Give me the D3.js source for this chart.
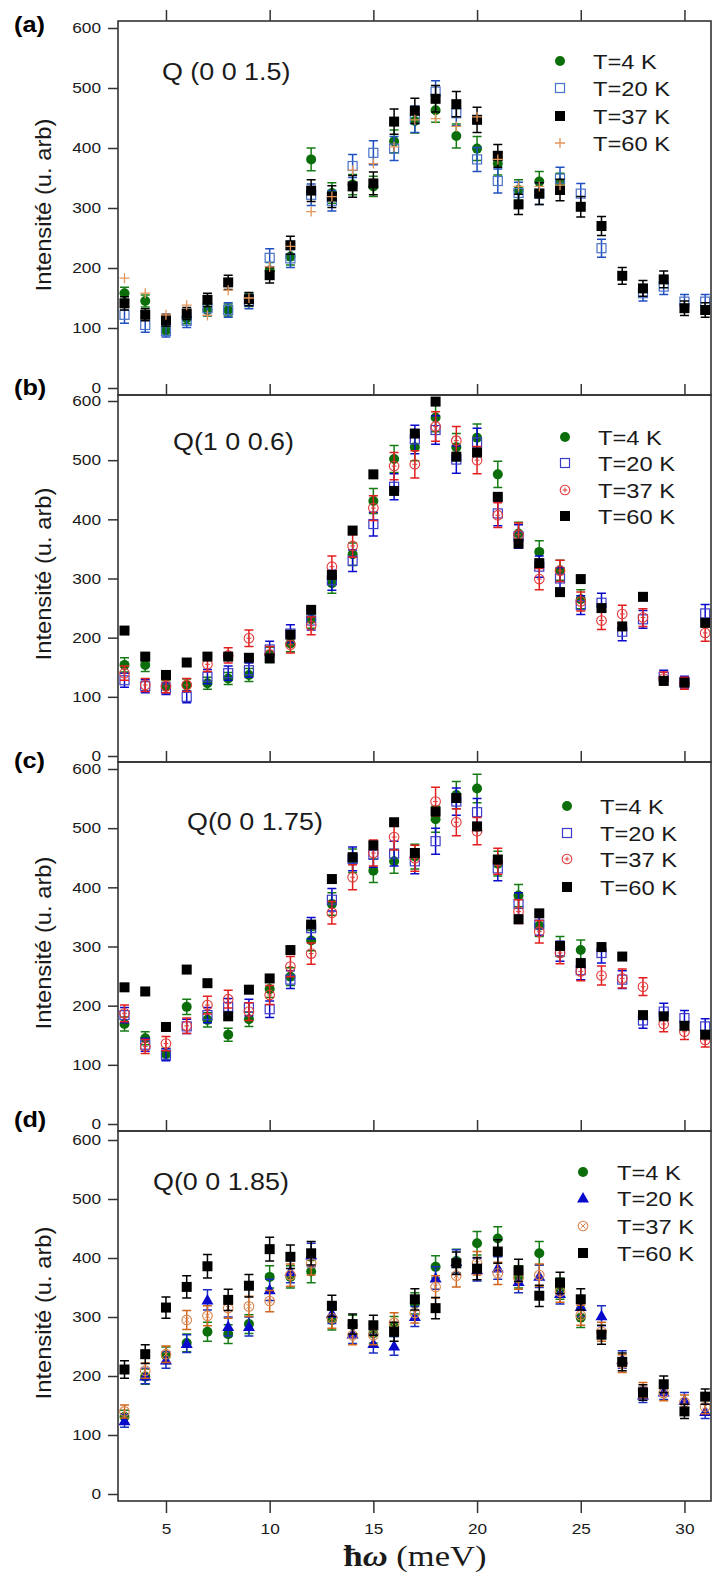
<!DOCTYPE html>
<html><head><meta charset="utf-8">
<script src="https://cdn.jsdelivr.net/npm/d3@7"></script>
<style>body{margin:0;background:#fff}svg{display:block}</style>
</head><body>
<svg id="c" width="712" height="1575"></svg>
<script>
// ---------- data ----------
const energies = [3,4,5,6,7,8,9,10,11,12,13,14,15,16,17,18,19,20,21,22,23,24,25,26,27,28,29,30,31];
const xTicks = [5,10,15,20,25,30];
const yTicks = [0,100,200,300,400,500,600];
const panelLabels = ["(a)","(b)","(c)","(d)"];
const panelTitles = ["Q (0 0 1.5)","Q(1 0 0.6)","Q(0 0 1.75)","Q(0 0 1.85)"];
const legendLabels = ["T=4 K","T=20 K","T=37 K","T=60 K"];
const yTitle = "Intensité (u. arb)";

// panel (a) Q(0 0 1.5)
const a4K  = [158,145,96,116,130,130,147,196,219,381,325,339,336,411,445,463,420,399,374,330,344,341,null,null,null,null,null,null,null];
const a20K = [122,105,95,112,133,130,144,217,216,322,312,370,392,399,448,494,458,381,345,325,324,349,324,233,null,158,169,144,144];
const a37K = [141,122,113,124,147,176,148,188,238,329,319,336,341,444,462,482,473,447,387,306,324,330,302,270,187,166,181,133,130];
const a60K = [183,158,122,138,121,163,150,202,236,294,319,363,374,402,447,449,436,452,381,336,336,338,null,null,null,null,null,null,null];
const a4KErr  = [10,10,8,9,10,10,11,13,14,19,17,17,17,19,20,20,20,20,19,17,17,17,null,null,null,null,null,null,null];
const a20KErr = [14,12,10,11,12,12,12,15,15,18,17,19,20,20,22,18,21,20,20,18,18,19,17,15,null,13,13,12,12];
const a37KErr = [11,10,10,10,11,12,11,13,15,18,18,18,19,21,21,22,21,21,19,17,18,18,17,16,14,13,14,12,12];

// panel (b) Q(1 0 0.6)
const b4K  = [154,154,117,120,123,131,137,171,190,231,292,341,431,502,522,572,522,538,476,376,345,314,265,null,null,null,null,null,null];
const b20K = [128,118,114,100,134,140,145,180,207,229,297,330,392,455,535,551,501,530,410,371,320,300,255,259,210,231,134,125,241];
const b37K = [140,120,118,120,155,170,199,172,188,220,320,355,419,490,493,557,533,500,407,374,299,313,261,229,240,234,131,123,208];
const b60K = [212,168,137,158,168,168,166,165,205,247,306,381,476,448,545,599,506,513,438,359,326,277,299,250,219,269,127,124,225];
const b4KErr  = [12,11,10,10,10,10,11,13,14,15,17,19,21,23,23,24,23,23,22,19,19,17,16,null,null,null,null,null,null];
const b20KErr = [12,11,10,10,12,12,12,14,15,16,17,18,20,22,24,24,23,24,21,20,18,18,16,16,15,15,11,10,15];
const b37KErr = [12,11,11,11,12,13,14,13,14,15,18,19,21,23,23,25,24,23,21,20,18,18,16,15,15,15,11,10,14];

// panel (c) Q(0 0 1.75)
const c4K  = [169,145,118,198,176,151,177,228,249,310,372,445,428,444,452,515,556,567,440,386,335,300,294,null,null,null,null,null,null];
const c20K = [184,134,117,165,184,198,197,194,244,331,379,448,455,457,444,478,545,527,432,372,337,292,260,289,244,175,190,179,165];
const c37K = [187,131,136,166,201,211,190,218,266,288,357,417,458,485,449,545,510,495,444,359,325,289,258,251,246,232,169,156,142];
const c60K = [231,224,164,261,238,182,227,246,294,337,414,451,471,510,458,528,551,503,447,346,356,301,272,299,283,184,182,166,151];
const c4KErr  = [12,11,10,13,12,11,12,14,15,17,19,20,20,20,21,22,23,24,21,19,18,17,17,null,null,null,null,null,null];
const c20KErr = [13,11,10,12,13,14,14,14,15,18,19,20,21,21,21,22,23,23,21,19,18,17,16,17,15,13,14,13,13];
const c37KErr = [14,12,12,13,15,15,15,16,17,18,19,21,22,22,22,24,23,23,22,20,19,18,16,16,16,15,13,13,12];

// panel (d) Q(0 0 1.85)
const d4K  = [131,199,235,256,275,271,288,368,368,377,295,286,272,284,323,385,395,425,433,368,408,348,299,null,null,null,null,null,null];
const d20K = [124,200,227,255,329,284,284,346,377,405,306,271,255,251,301,366,394,380,383,360,369,340,318,302,228,168,173,159,140];
const d37K = [140,209,237,295,302,315,318,327,371,391,298,269,269,290,307,351,370,391,374,366,371,343,303,275,221,176,171,156,148];
const d60K = [211,237,316,351,386,329,353,415,402,408,319,288,286,275,330,315,391,382,411,379,336,358,330,270,224,172,186,140,165];
const d4KErr  = [11,13,14,15,16,16,16,19,19,19,17,17,16,17,18,19,20,20,20,19,20,18,17,null,null,null,null,null,null];
const d20KErr = [11,13,14,15,17,16,16,18,19,20,17,16,16,16,17,19,20,19,19,19,19,18,17,17,15,13,13,13,12];
const d37KErr = [11,13,14,16,17,17,17,18,19,20,17,16,16,17,17,19,19,20,19,19,19,18,17,16,15,13,13,12,12];
const d60KErr = [15,16,18,19,20,18,19,20,20,20,18,17,17,16,18,18,19,19,20,19,18,18,18,16,15,13,14,12,13];

// ---------- styles / layout ----------
const GREEN = {sym:"circle",  color:"#0b6e0b", bar:"#167c16"};
const panels = [
  {top:21,  bottom:395,  y600:28,   y0:388,  lab:[14,32],   title:[162,80],   leg:{mx:560,tx:593,ys:[61,88,116,143]},   yc:205,
   series:[[a4K,a4KErr,GREEN],[a20K,a20KErr,{sym:"sqOpen",color:"#4a72c8",bar:"#1f4fc0"}],[a37K,a37KErr,{sym:"sqFill",color:"#000",bar:"#000"}],[a60K,null,{sym:"plus",color:"#e4955a",bar:null}]]},
  {top:395, bottom:762,  y600:401,  y0:756,  lab:[14,395],  title:[173,450],  leg:{mx:565,tx:598,ys:[437,463,490,516]}, yc:574,
   series:[[b4K,b4KErr,GREEN],[b20K,b20KErr,{sym:"sqOpen",color:"#3c3cc8",bar:"#0a0acd"}],[b37K,b37KErr,{sym:"circPlus",color:"#e03a3a",bar:"#e41e1e"}],[b60K,null,{sym:"sqFill",color:"#000",bar:null}]]},
  {top:762, bottom:1131, y600:769,  y0:1124, lab:[14,768],  title:[187,830],  leg:{mx:567,tx:600,ys:[806,833,859,887]}, yc:943,
   series:[[c4K,c4KErr,GREEN],[c20K,c20KErr,{sym:"sqOpen",color:"#3c3cc8",bar:"#0a0acd"}],[c37K,c37KErr,{sym:"circPlus",color:"#e03a3a",bar:"#e41e1e"}],[c60K,null,{sym:"sqFill",color:"#000",bar:null}]]},
  {top:1131,bottom:1501, y600:1140, y0:1494, lab:[14,1127], title:[153,1190], leg:{mx:583,tx:617,ys:[1172,1198,1226,1253]}, yc:1313,
   series:[[d4K,d4KErr,GREEN],[d20K,d20KErr,{sym:"tri",color:"#0a0acd",bar:"#1a2ec0"}],[d37K,d37KErr,{sym:"circX",color:"#d9854f",bar:"#d2661e"}],[d60K,d60KErr,{sym:"sqFill",color:"#000",bar:"#000"}]]}
];
const SX = 1.15;
const AX = "#333";
const FONT = "'Liberation Sans', Arial, sans-serif";

const svg = d3.select("#c");
const x = d3.scaleLinear().domain([2.687, 31.28]).range([118, 711]);

function marker(g, sym, color, cx, cy) {
  if (sym === "circle") g.append("circle").attr("cx",cx).attr("cy",cy).attr("r",5).attr("fill",color);
  else if (sym === "sqFill") g.append("rect").attr("x",cx-5).attr("y",cy-5).attr("width",10).attr("height",10).attr("fill",color);
  else if (sym === "sqOpen") g.append("rect").attr("x",cx-4.5).attr("y",cy-4.5).attr("width",9).attr("height",9).attr("fill","none").attr("stroke",color).attr("stroke-width",1.2);
  else if (sym === "plus") g.append("path").attr("d",`M${cx-5},${cy}H${cx+5}M${cx},${cy-5}V${cy+5}`).attr("stroke",color).attr("stroke-width",1.3).attr("fill","none");
  else if (sym === "circPlus" || sym === "circX") {
    g.append("circle").attr("cx",cx).attr("cy",cy).attr("r",4.8).attr("fill","none").attr("stroke",color).attr("stroke-width",1.1);
    const s = 2.4;
    const d = sym === "circPlus" ? `M${cx-s},${cy}H${cx+s}M${cx},${cy-s}V${cy+s}` : `M${cx-s},${cy-s}L${cx+s},${cy+s}M${cx-s},${cy+s}L${cx+s},${cy-s}`;
    g.append("path").attr("d",d).attr("stroke",color).attr("stroke-width",1).attr("fill","none");
  }
  else if (sym === "tri") g.append("path").attr("d",`M${cx},${cy-6}L${cx+6},${cy+4.5}L${cx-6},${cy+4.5}Z`).attr("fill",color);
}

function stext(g, tx, ty, txt, size, opts={}) {
  return g.append("text").attr("transform",`translate(${tx},${ty}) scale(${opts.sx||SX},1)`)
    .attr("font-family",opts.family||FONT).attr("font-size",size).attr("font-weight",opts.weight||"normal")
    .attr("text-anchor",opts.anchor||"start").attr("fill",opts.fill||"#1a1a1a").text(txt);
}

panels.forEach((p, pi) => {
  const y = d3.scaleLinear().domain([0,600]).range([p.y0, p.y600]);
  const g = svg.append("g");

  // data
  p.series.forEach(([vals, errs, st]) => {
    const sg = g.append("g");
    energies.forEach((e, i) => {
      const v = vals[i];
      if (v == null) return;
      const cx = x(e), cy = y(v);
      if (errs && st.bar && errs[i] != null) {
        const y1 = y(v + errs[i]), y2 = y(v - errs[i]);
        sg.append("path").attr("d",`M${cx},${y1}V${y2}M${cx-4.5},${y1}H${cx+4.5}M${cx-4.5},${y2}H${cx+4.5}`)
          .attr("stroke",st.bar).attr("stroke-width",1.5).attr("fill","none");
      }
      marker(sg, st.sym, st.color, cx, cy);
    });
  });

  // left axis
  const ax = g.append("g").attr("transform",`translate(118,0)`)
    .call(d3.axisLeft(y).tickValues(yTicks).tickSize(10).tickSizeOuter(0).tickFormat(d3.format("d")));
  ax.select(".domain").remove();
  ax.selectAll(".tick line").attr("stroke",AX).attr("stroke-width",1.5);
  ax.selectAll(".tick text").attr("x",0).attr("transform",`translate(-17,0) scale(${SX},1)`)
    .attr("font-family",FONT).attr("font-size",15).attr("fill","#1a1a1a");

  // top ticks
  const at = g.append("g").attr("transform",`translate(0,${p.top})`)
    .call(d3.axisTop(x).tickValues(xTicks).tickSize(11).tickSizeOuter(0).tickFormat(""));
  at.select(".domain").remove();
  at.selectAll(".tick line").attr("stroke",AX).attr("stroke-width",1.5);

  // bottom axis for last panel
  if (pi === panels.length - 1) {
    const ab = g.append("g").attr("transform",`translate(0,${p.bottom})`)
      .call(d3.axisBottom(x).tickValues(xTicks).tickSize(12).tickSizeOuter(0).tickPadding(8));
    ab.select(".domain").remove();
    ab.selectAll(".tick line").attr("stroke",AX).attr("stroke-width",1.5);
    ab.selectAll(".tick text").attr("y",0).attr("dy",0).attr("transform",`translate(0,33) scale(${SX},1)`)
      .attr("font-family",FONT).attr("font-size",15).attr("fill","#1a1a1a");
  }

  // frame
  g.append("rect").attr("x",118).attr("y",p.top).attr("width",711-118).attr("height",p.bottom-p.top)
    .attr("fill","none").attr("stroke",AX).attr("stroke-width",1.6);

  // panel label and title
  stext(g, p.lab[0], p.lab[1], panelLabels[pi], 22, {weight:"bold", fill:"#000"});
  stext(g, p.title[0], p.title[1], panelTitles[pi], 24, {sx:1.12});

  // y title
  g.append("text").attr("transform",`translate(51,${p.yc}) rotate(-90) scale(1.08,1)`)
    .attr("font-family",FONT).attr("font-size",22).attr("text-anchor","middle").attr("fill","#1a1a1a").text(yTitle);

  // legend
  p.series.forEach(([vals, errs, st], k) => {
    marker(g, st.sym, st.color, p.leg.mx, p.leg.ys[k]);
    stext(g, p.leg.tx, p.leg.ys[k] + 7.5, legendLabels[k], 21, {sx:1.13});
  });
});

// x title
const xt = svg.append("text").attr("transform",`translate(415,1566) scale(1.15,1)`)
  .attr("font-family","'Liberation Serif', 'Times New Roman', serif").attr("font-size",30)
  .attr("text-anchor","middle").attr("fill","#1a1a1a");
xt.append("tspan").attr("font-weight","bold").text("ħ");
xt.append("tspan").attr("font-weight","bold").attr("font-style","italic").text("ω");
xt.append("tspan").text(" (meV)");
</script>
</body></html>
